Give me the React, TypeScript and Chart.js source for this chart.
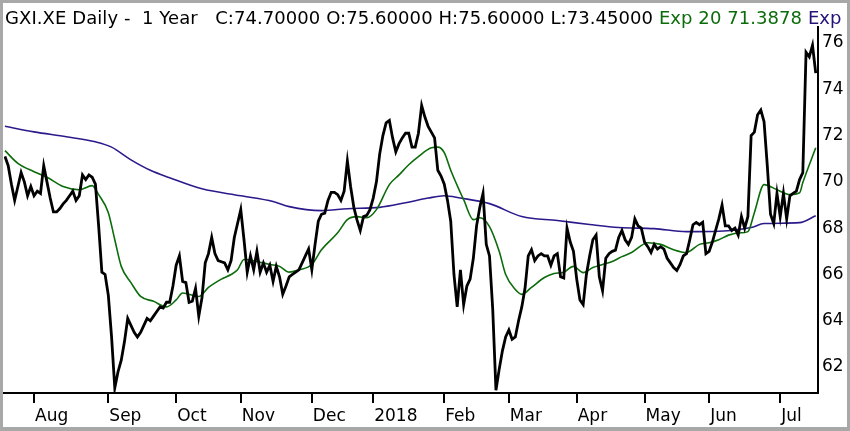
import { useEffect, useRef } from "react"
import { Chart, registerables } from "chart.js"

Chart.register(...registerables)

// daily closes, one per trading day (index 0 = first bar on the left)
const closes = [
  71.1, 70.7, 69.9, 69.2, 69.8, 70.4, 70.0, 69.4, 69.8, 69.4,
  69.6, 69.5, 70.7, 70.0, 69.3, 68.7, 68.7, 68.85, 69.05, 69.2,
  69.4, 69.6, 69.2, 69.4, 70.3, 70.1, 70.3, 70.2, 69.9, 68.1,
  66.1, 66.0, 65.1, 63.3, 61.1, 61.8, 62.3, 63.1, 64.1, 63.8,
  63.5, 63.3, 63.5, 63.8, 64.1, 64.0, 64.2, 64.4, 64.6, 64.55,
  64.8, 64.8, 65.5, 66.4, 66.8, 65.7, 65.65, 64.8, 64.85, 65.4,
  64.2, 65.0, 66.5, 66.9, 67.6, 66.9, 66.6, 66.55, 66.5, 66.2,
  66.6, 67.6, 68.2, 68.8, 67.5, 66.1, 66.8, 66.2, 67.0, 66.1,
  66.5, 66.1, 66.4, 65.7, 66.35, 65.9, 65.15, 65.5, 65.9, 66.0,
  66.1, 66.2, 66.5, 66.8, 67.1, 66.2, 67.3, 68.3, 68.6, 68.65,
  69.2, 69.55, 69.55, 69.45, 69.2, 69.6, 70.9, 69.8, 68.9, 68.35,
  67.9, 68.5, 68.55, 68.8, 69.3, 70.0, 71.2, 72.0, 72.55, 72.65,
  71.9, 71.3, 71.65, 71.9, 72.1, 72.1, 71.5, 71.5, 72.1, 73.3,
  72.8, 72.4, 72.15, 71.9, 70.5, 70.25, 69.9, 69.2, 68.3, 66.0,
  64.6, 66.2, 64.7, 65.5, 65.8, 66.7, 68.1, 68.9, 69.5, 67.3,
  66.8, 64.5, 61.0, 61.9, 62.7, 63.3, 63.6, 63.2, 63.3, 64.0,
  64.6, 65.4, 66.8, 67.07, 66.6, 66.8, 66.9, 66.8, 66.8, 66.4,
  66.8, 66.9, 65.9, 65.85, 68.0, 67.4, 67.0, 65.8, 64.9, 64.7,
  66.0, 66.8, 67.5, 67.7, 65.9, 65.3, 66.7, 66.9, 67.0, 67.05,
  67.6, 67.9, 67.5, 67.3, 67.6, 68.4, 68.1, 68.0, 67.4, 67.2,
  66.95, 67.3, 67.1, 67.2, 67.1, 66.7, 66.5, 66.3, 66.17, 66.43,
  66.8, 66.9, 67.5, 68.15, 68.25, 68.15, 68.25, 66.9, 67.0, 67.4,
  67.9, 68.4, 69.0, 68.1, 68.1, 67.9, 68.0, 67.7, 68.5, 68.0,
  68.5, 72.0, 72.15, 72.9, 73.1, 72.6, 70.7, 68.6, 68.2, 69.5,
  68.5, 69.5, 68.4, 69.4, 69.5, 69.6, 70.1, 70.4, 75.6, 75.4,
  75.9, 74.7,
]

// [day, value]
const ema20: [number, number][] = [
  [0, 71.35], [4, 70.8], [9, 70.44], [13, 70.2], [18, 69.8], [23, 69.66],
  [27, 69.84], [29, 69.45], [32, 68.67], [34, 67.5], [36, 66.35], [39, 65.65],
  [42, 65.05], [46, 64.84], [50, 64.6], [53, 64.9], [55, 65.2], [60, 65.05],
  [63, 65.44], [67, 65.8], [70, 66.0], [72, 66.2], [74, 66.65], [78, 66.56],
  [82, 66.43], [85, 66.35], [88, 66.1], [91, 66.2], [95, 66.43], [98, 67.07],
  [103, 67.8], [106, 68.37], [109, 68.5], [112, 68.45], [115, 68.8], [119, 69.88],
  [122, 70.3], [125, 70.74], [128, 71.09], [132, 71.47], [134, 71.5], [136, 71.26],
  [138, 70.5], [141, 69.53], [142, 69.23], [145, 68.37], [147, 68.45], [150, 68.07],
  [153, 67.0], [155, 66.0], [158, 65.35], [160, 65.14], [163, 65.44], [167, 65.87],
  [170, 66.04], [173, 66.1], [176, 66.35], [179, 66.08], [182, 66.3], [185, 66.43],
  [188, 66.56], [191, 66.77], [194, 66.95], [199, 67.37], [203, 67.3], [207, 67.07],
  [211, 66.95], [215, 67.3], [218, 67.37], [221, 67.5], [224, 67.7], [228, 67.8],
  [230, 67.85], [232, 68.67], [235, 69.88], [239, 69.66], [243, 69.45], [246, 69.53],
  [247, 69.97], [251, 71.47],
]

// [day, value]
const expLong: [number, number][] = [
  [0, 72.4], [9, 72.16], [19, 71.95], [28, 71.73], [33, 71.5], [39, 70.95],
  [45, 70.5], [51, 70.18], [61, 69.7], [73, 69.4], [83, 69.15], [88, 68.93],
  [98, 68.76], [106, 68.84], [116, 68.9], [124, 69.1], [131, 69.3], [136, 69.4],
  [141, 69.3], [150, 69.06], [160, 68.5], [171, 68.33], [181, 68.16], [190, 68.03],
  [201, 67.98], [211, 67.85], [221, 67.87], [231, 68.03], [235, 68.2], [246, 68.24],
  [251, 68.54],
]

const monthTicks = [9, 32, 53, 73, 95, 114, 136, 156, 177, 198, 218, 240]
const monthLabels = ["Aug", "Sep", "Oct", "Nov", "Dec", "2018", "Feb", "Mar", "Apr", "May", "Jun", "Jul"]
const priceTicks = [62, 64, 66, 68, 70, 72, 74, 76]

const FONT = "'DejaVu Sans', Verdana, sans-serif"

export default function App() {
  const canvasRef = useRef<HTMLCanvasElement | null>(null)
  const chartRef = useRef<Chart | null>(null)

  useEffect(() => {
    if (!canvasRef.current) return
    if (chartRef.current) chartRef.current.destroy()

    chartRef.current = new Chart(canvasRef.current, {
      type: "line",
      data: {
        datasets: [
          {
            label: "Close",
            data: closes.map((y, x) => ({ x, y })),
            borderColor: "#000000",
            borderWidth: 2.8,
            pointRadius: 0,
            tension: 0,
          },
          {
            label: "Exp 20",
            data: ema20.map(([x, y]) => ({ x, y })),
            borderColor: "#0c6c0c",
            borderWidth: 1.6,
            pointRadius: 0,
            cubicInterpolationMode: "monotone",
          },
          {
            label: "Exp",
            data: expLong.map(([x, y]) => ({ x, y })),
            borderColor: "#2c1a8c",
            borderWidth: 1.6,
            pointRadius: 0,
            cubicInterpolationMode: "monotone",
          },
        ],
      },
      options: {
        responsive: false,
        animation: false,
        layout: { padding: { left: 4, top: 27, right: 0, bottom: 0 } },
        plugins: {
          legend: { display: false },
          tooltip: { enabled: false },
        },
        scales: {
          x: {
            type: "linear",
            min: -0.3,
            max: 251.7,
            afterBuildTicks: (scale) => {
              scale.ticks = monthTicks.map((value) => ({ value }))
            },
            afterFit: (scale) => {
              scale.height = 38
            },
            ticks: {
              autoSkip: false,
              maxRotation: 0,
              align: "start",
              labelOffset: 1,
              padding: 3,
              color: "#000000",
              font: { family: FONT, size: 17 },
              callback: (value) => monthLabels[monthTicks.indexOf(Number(value))] ?? "",
            },
            grid: {
              drawOnChartArea: false,
              drawTicks: true,
              tickLength: 10,
              color: "#000000",
              lineWidth: 2,
            },
            border: { display: true, color: "#000000", width: 2 },
          },
          y: {
            position: "right",
            min: 60.88,
            max: 76.69,
            afterBuildTicks: (scale) => {
              scale.ticks = priceTicks.map((value) => ({ value }))
            },
            afterFit: (scale) => {
              scale.width = 32
            },
            ticks: {
              padding: 4,
              color: "#000000",
              font: { family: FONT, size: 17 },
              callback: (value) => String(value),
            },
            grid: { display: false, drawTicks: false },
            border: { display: true, color: "#000000", width: 2 },
          },
        },
      },
    })

    return () => {
      if (chartRef.current) {
        chartRef.current.destroy()
        chartRef.current = null
      }
    }
  }, [])

  return (
    <div style={{ position: "fixed", left: 0, top: 0, width: 850, height: 431, background: "#ffffff" }}>
      <canvas ref={canvasRef} width={850} height={431} style={{ position: "absolute", left: 0, top: 0 }} />
      <div
        style={{
          position: "absolute",
          left: 5,
          top: 7,
          fontFamily: FONT,
          fontSize: 18,
          letterSpacing: "0.07px",
          lineHeight: "21px",
          whiteSpace: "pre",
          color: "#000000",
        }}
      >
        <span>GXI.XE Daily -  1 Year   C:74.70000 O:75.60000 H:75.60000 L:73.45000 </span>
        <span style={{ color: "#0c6c0c" }}>Exp 20 71.3878 </span>
        <span style={{ color: "#24127a" }}>Exp</span>
      </div>
      <div
        style={{
          position: "absolute",
          inset: 0,
          boxSizing: "border-box",
          borderStyle: "solid",
          borderColor: "#a8a8a8",
          borderWidth: "3px 3px 4px 3px",
          pointerEvents: "none",
        }}
      />
    </div>
  )
}
